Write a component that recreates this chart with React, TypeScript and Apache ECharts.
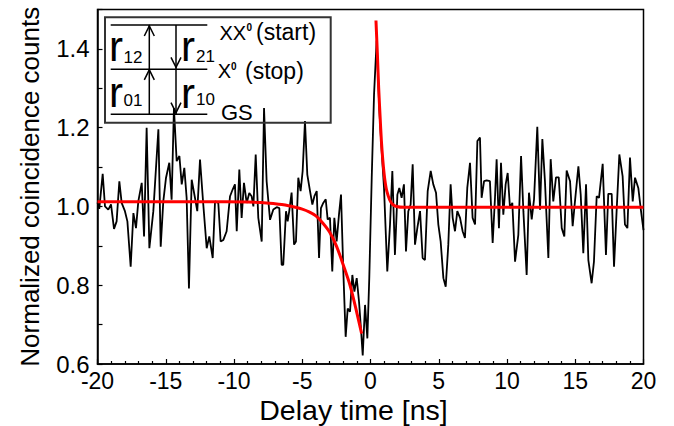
import React, { useEffect, useRef } from 'react';
import * as echarts from 'echarts';

// Measured coincidence counts (delay time in ns, normalized counts)
const blackT = [
  -20.0, -19.87, -19.62, -19.45, -19.21, -19.01, -18.79, -18.6, -18.4, -18.23,
  -17.99, -17.81, -17.57, -17.37, -17.18, -17.01, -16.76, -16.59, -16.4, -16.2,
  -15.91, -15.54, -15.37, -15.18, -14.98, -14.74, -14.57, -14.4, -14.2, -14.0,
  -13.83, -13.64, -13.47, -13.3, -13.1, -12.86, -12.69, -12.49, -12.25, -12.0,
  -11.81, -11.56, -11.39, -11.15, -10.98, -10.78, -10.54, -10.29, -10.1, -9.93,
  -9.8, -9.61, -9.44, -9.27, -9.07, -8.88, -8.71, -8.58, -8.41, -8.22,
  -7.97, -7.8, -7.61, -7.36, -7.12, -6.87, -6.68, -6.51, -6.39, -6.19,
  -6.07, -5.95, -5.78, -5.6, -5.46, -5.29, -5.12, -4.97, -4.8, -4.63,
  -4.43, -4.26, -4.11, -3.94, -3.77, -3.63, -3.46, -3.28, -3.14, -2.97,
  -2.8, -2.65, -2.48, -2.31, -2.16, -1.99, -1.82, -1.67, -1.5, -1.33,
  -1.18, -1.01, -0.84, -0.7, -0.57, -0.4, -0.23, -0.09, 0.09, 0.26,
  0.45, 0.65, 0.82, 0.99, 1.23, 1.43, 1.6, 1.79, 1.97, 2.11,
  2.28, 2.45, 2.6, 2.77, 2.94, 3.09, 3.26, 3.43, 3.63, 3.82,
  3.99, 4.19, 4.41, 4.6, 4.8, 4.97, 5.14, 5.34, 5.51, 5.7,
  5.87, 6.02, 6.19, 6.36, 6.56, 6.75, 6.92, 7.09, 7.29, 7.48,
  7.66, 7.83, 8.02, 8.14, 8.32, 8.51, 8.75, 8.95, 9.12, 9.24,
  9.41, 9.56, 9.73, 9.9, 10.05, 10.22, 10.39, 10.59, 10.83, 11.03,
  11.2, 11.44, 11.61, 11.81, 11.98, 12.22, 12.42, 12.59, 12.78, 13.03,
  13.2, 13.39, 13.59, 13.79, 14.01, 14.2, 14.37, 14.62, 14.81, 14.98,
  15.23, 15.4, 15.59, 15.79, 15.96, 16.2, 16.37, 16.57, 16.74, 17.01,
  17.25, 17.42, 17.67, 17.84, 18.03, 18.23, 18.47, 18.64, 18.82, 19.01,
  19.21, 19.38, 19.62, 19.79, 20.0,
];
const blackV = [
  1.01, 0.994, 1.083, 1.0, 0.992, 1.005, 0.943, 0.962, 1.064, 1.009,
  0.988, 0.962, 0.847, 0.983, 0.945, 1.013, 1.06, 0.924, 1.2, 0.894,
  0.988, 1.196, 0.898, 1.013, 1.073, 1.111, 1.017, 1.25, 1.115, 1.128,
  1.056, 1.098, 1.022, 0.792, 1.068, 1.022, 0.988, 1.119, 1.005, 0.894,
  0.924, 0.869, 1.013, 1.009, 0.911, 0.915, 0.937, 1.026, 1.043, 1.056,
  0.937, 1.094, 0.971, 1.06, 1.009, 1.034, 1.026, 1.0, 1.132, 0.971,
  0.911, 1.25, 1.064, 0.966, 0.992, 0.998, 0.996, 0.852, 0.852, 0.988,
  0.962, 0.989, 1.035, 0.903, 0.911, 1.073, 1.039, 1.09, 1.217, 1.081,
  1.039, 1.005, 1.026, 1.039, 0.869, 0.996, 1.009, 1.018, 0.967, 0.971,
  0.835, 0.971, 0.911, 0.979, 1.03, 0.835, 0.669, 0.741, 0.733, 0.826,
  0.784, 0.818, 0.758, 0.69, 0.622, 0.75, 0.665, 0.818, 1.073, 1.285,
  1.421, 1.243, 1.141, 1.047, 0.835, 0.954, 1.09, 0.877, 1.03, 1.047,
  1.022, 1.056, 0.886, 0.988, 1.005, 1.107, 0.903, 0.945, 0.988, 0.869,
  0.864, 1.039, 1.09, 1.056, 1.035, 0.954, 0.911, 0.818, 0.796, 0.903,
  1.056, 0.971, 0.937, 0.988, 0.971, 0.937, 0.92, 1.047, 1.111, 0.971,
  0.954, 1.166, 1.175, 1.022, 1.064, 1.066, 1.064, 0.907, 1.022, 1.12,
  0.945, 1.111, 0.979, 1.056, 1.085, 0.996, 1.009, 0.86, 0.928, 1.128,
  0.988, 0.826, 1.035, 0.967, 1.018, 1.202, 0.992, 1.171, 1.064, 0.869,
  1.12, 1.013, 1.074, 1.074, 0.945, 0.924, 1.091, 1.064, 0.95, 1.013,
  1.102, 1.03, 0.881, 1.056, 0.864, 0.805, 0.86, 1.026, 1.022, 1.108,
  0.877, 1.032, 1.032, 0.847, 0.988, 1.132, 1.077, 0.954, 0.945, 1.124,
  1.013, 1.073, 1.047, 0.996, 0.94,
];

// Fitted curve (red): negative-delay branch
const fitLeftT = [-20, -12, -9, -8, -7, -6.5, -6, -5.5, -5, -4.5, -4, -3.5, -3, -2.5, -2, -1.5, -1, -0.65];
const fitLeftV = [1.012, 1.012, 1.011, 1.01, 1.007, 1.005, 1.002, 0.998, 0.993, 0.986, 0.976, 0.958, 0.935, 0.9, 0.852, 0.8, 0.73, 0.677];
// positive-delay branch
const fitRightT = [0.4, 0.5, 0.6, 0.7, 0.8, 0.9, 1.0, 1.1, 1.2, 1.4, 1.6, 1.9, 2.5, 5, 20];
const fitRightV = [1.472, 1.39, 1.3, 1.23, 1.165, 1.118, 1.082, 1.056, 1.038, 1.017, 1.006, 1.0, 0.998, 0.998, 0.998];

const xLabels = [-20, -15, -10, -5, 0, 5, 10, 15, 20];
const yLabels = ['0.6', '0.8', '1.0', '1.2', '1.4'];

const FONT = 'Liberation Sans, Arial, sans-serif';

export default function App() {
  const ref = useRef<HTMLDivElement>(null);
  useEffect(() => {
    const chart = echarts.init(ref.current!, null, { renderer: 'svg' });
    const black = blackT.map((t, i) => [t, blackV[i]]);
    const left = fitLeftT.map((t, i) => [t, fitLeftV[i]]);
    const right = fitRightT.map((t, i) => [t, fitRightV[i]]);

    const txt = (text: string, x: number, y: number, size: number, extra: any = {}) => ({
      type: 'text',
      x,
      y,
      z: 100,
      style: {
        text,
        fontSize: size,
        fontFamily: FONT,
        fill: '#000',
        align: 'left',
        verticalAlign: 'middle',
        ...extra,
      },
    });
    const ln = (x1: number, y1: number, x2: number, y2: number) => ({
      type: 'line',
      z: 100,
      shape: { x1, y1, x2, y2 },
      style: { stroke: '#000', lineWidth: 1.5 },
    });
    const head = (x: number, y: number, dir: number) => ({
      type: 'polyline',
      z: 100,
      shape: { points: [[x - 5, y + dir * 10], [x, y], [x + 5, y + dir * 10]] },
      style: { stroke: '#000', lineWidth: 1.5, fill: 'none' },
    });
    const bigR = { lineHeight: 30 };

    chart.setOption({
      animation: false,
      backgroundColor: '#fff',
      grid: {
        left: 97.5,
        right: 30.5,
        top: 9.5,
        bottom: 62,
        show: true,
        borderColor: '#000',
        borderWidth: 1.5,
        containLabel: false,
        outerBoundsMode: 'none',
      },
      xAxis: {
        type: 'value',
        min: -20,
        max: 20,
        interval: 5,
        name: 'Delay time [ns]',
        nameLocation: 'middle',
        nameGap: 33.6,
        nameMoveOverlap: false,
        nameTextStyle: {
          fontSize: 28.5,
          lineHeight: 24,
          fontFamily: FONT,
          color: '#000',
          padding: [0, 34, 0, 0],
        },
        axisLine: { show: true, onZero: false, lineStyle: { color: '#000', width: 1.5 } },
        axisTick: { show: true, inside: true, length: 5, lineStyle: { color: '#000', width: 1.2 } },
        minorTick: { show: true, splitNumber: 5, length: 3, lineStyle: { color: '#000', width: 1.2 } },
        axisLabel: {
          fontSize: 23,
          lineHeight: 20,
          fontFamily: FONT,
          color: '#000',
          margin: 6.5,
          formatter: (v: number) => (xLabels.includes(Math.round(v)) ? String(Math.round(v)) : ''),
        },
        splitLine: { show: false },
      },
      yAxis: {
        type: 'value',
        min: 0.6,
        max: 1.5,
        interval: 0.1,
        name: 'Normalized coincidence counts',
        nameLocation: 'middle',
        nameGap: 55,
        nameMoveOverlap: false,
        nameTextStyle: { fontSize: 26, fontFamily: FONT, color: '#000' },
        axisLine: { show: true, onZero: false, lineStyle: { color: '#000', width: 1.5 } },
        axisTick: { show: true, inside: true, length: 5, lineStyle: { color: '#000', width: 1.2 } },
        axisLabel: {
          fontSize: 24,
          fontFamily: FONT,
          color: '#000',
          margin: 8,
          formatter: (v: number) => {
            const s = v.toFixed(1);
            return yLabels.includes(s) ? s : '';
          },
        },
        splitLine: { show: false },
      },
      series: [
        {
          type: 'line',
          data: black,
          symbol: 'none',
          lineStyle: { color: '#000', width: 1.8 },
          z: 2,
        },
        {
          type: 'line',
          data: left,
          symbol: 'none',
          smooth: 0.3,
          lineStyle: { color: '#ff0000', width: 3 },
          z: 3,
        },
        {
          type: 'line',
          data: right,
          symbol: 'none',
          smooth: 0.3,
          lineStyle: { color: '#ff0000', width: 3 },
          z: 3,
        },
      ],
      graphic: [
        {
          type: 'rect',
          z: 99,
          shape: { x: 105, y: 17.3, width: 225.7, height: 105.4 },
          style: { fill: 'none', stroke: '#333', lineWidth: 2 },
        },
        ln(110.7, 25, 207.3, 25),
        ln(110.7, 69.3, 207.3, 69.3),
        ln(110.7, 114.3, 207.3, 114.3),
        ln(149.3, 114.3, 149.3, 25),
        head(149.3, 26, 1),
        head(149.3, 69.8, 1),
        ln(176, 25, 176, 114.3),
        head(176, 67.3, -1),
        head(176, 112.7, -1),
        txt('r', 109, 46.5, 42, bigR),
        txt('12', 123.5, 57.4, 17),
        txt('r', 181, 46, 42, bigR),
        txt('21', 196, 56, 17),
        txt('r', 109, 92.5, 42, bigR),
        txt('01', 123.5, 100, 17),
        txt('r', 181, 93, 42, bigR),
        txt('10', 196, 99.5, 17),
        txt('XX', 219.5, 32.5, 20),
        txt('0', 246.5, 27.2, 10, { fontWeight: 'bold' }),
        txt('(start)', 256, 32, 23),
        txt('X', 217.8, 71.4, 20),
        txt('0', 231, 66.3, 10, { fontWeight: 'bold' }),
        txt('(stop)', 245, 71, 23),
        txt('GS', 221, 112, 22),
      ],
    });
    return () => chart.dispose();
  }, []);
  return (
    <div
      ref={ref}
      style={{ position: 'fixed', left: 0, top: 0, width: 674, height: 426, background: '#fff' }}
    />
  );
}
